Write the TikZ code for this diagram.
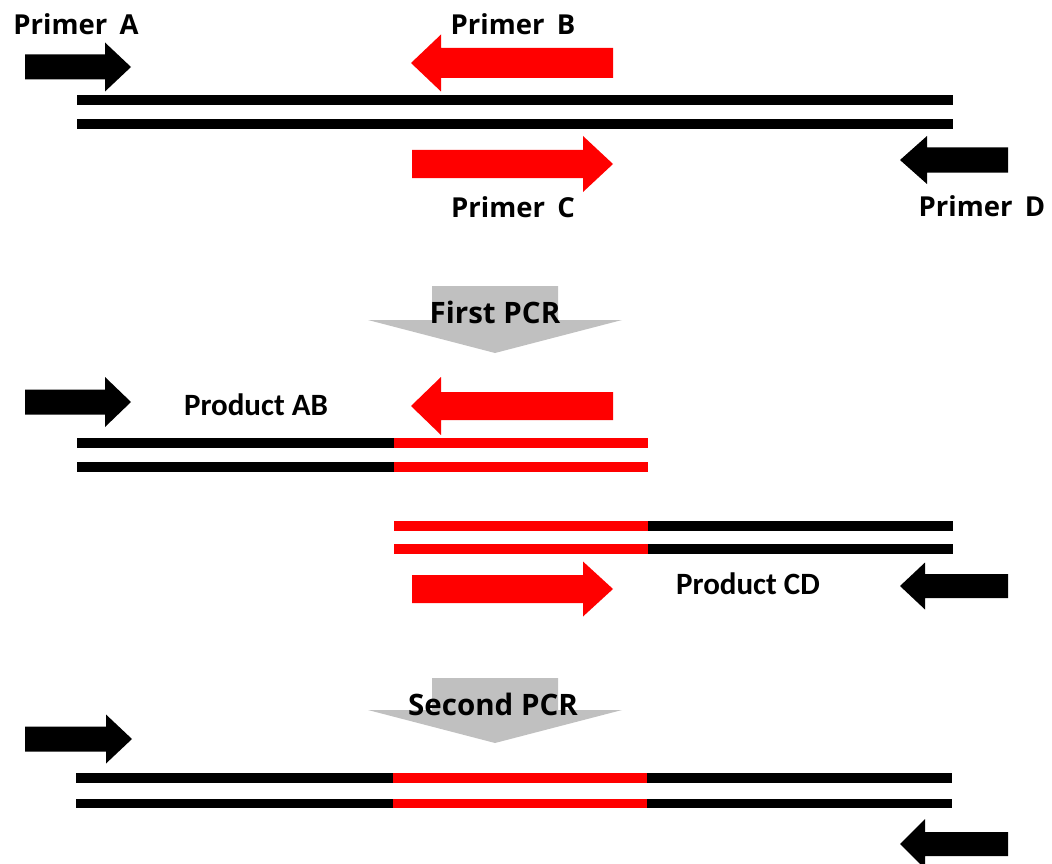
\documentclass[tikz,border=0pt]{standalone}
\usepackage{fontspec}
\setmainfont{Open Sans}
\newfontfamily\prodfont{Carlito}
\definecolor{primerred}{HTML}{FF0000}
\definecolor{pcrgrey}{HTML}{C0C0C0}

% Block arrow: colour, tip x, y, head-base x, tail x, shaft half-height, head half-height
\newcommand\primerarrow[7]{%
  \fill[#1] (#2,#3) -- (#4,#3-#7) -- (#4,#3-#6) -- (#5,#3-#6)
    -- (#5,#3+#6) -- (#4,#3+#6) -- (#4,#3+#7) -- cycle;}

% Wide grey "step" arrow: top of shaft y, head y, tip y
\newcommand\pcrarrow[3]{%
  \fill[pcrgrey] (432,#1) -- (558,#1) -- (558,#2) -- (622,#2) -- (495,#3)
    -- (368,#2) -- (432,#2) -- cycle;}

\tikzset{
  strand/.style={line width=9.5pt, line cap=butt},
  blackstrand/.style={strand, black},
  redstrand/.style={strand, primerred},
  primerlabel/.style={anchor=base, inner sep=0pt, font=\bfseries\fontsize{27.5}{30}\selectfont},
  pcrlabel/.style={anchor=base, inner sep=0pt, font=\bfseries\fontsize{29.5}{32}\selectfont},
  productlabel/.style={anchor=base, inner sep=0pt, font=\prodfont\bfseries\fontsize{31}{34}\selectfont},
}
\newcommand\gapA{\hspace{0.45em}}

\begin{document}
\begin{tikzpicture}[x=1pt, y=-1pt]
\useasboundingbox (0,0) rectangle (1052,864);
\clip (0,0) rectangle (1052,864);

% ---------- template with the four primers ----------
\node[primerlabel] (lA) at (76,35) {Primer\gapA A};
\node[primerlabel] (lB) at (513,35) {Primer\gapA B};
\node[primerlabel] (lC) at (513,217) {Primer\gapA C};
\node[primerlabel] (lD) at (982,216) {Primer\gapA D};

\primerarrow{black}{131}{67}{105}{25}{12.5}{24.5}
\primerarrow{primerred}{411}{63}{441}{613}{15}{28.5}
\primerarrow{primerred}{613}{164}{583}{412}{14}{28}
\primerarrow{black}{900}{160}{927}{1008}{12.5}{24}

\draw[blackstrand] (77,100) -- (953,100);
\draw[blackstrand] (77,124) -- (953,124);

% ---------- first PCR ----------
\pcrarrow{286}{320}{353}
\node[pcrlabel] (pcr1) at (495,323) {First PCR};

% product AB
\primerarrow{black}{131}{402}{105}{25}{12.5}{25}
\primerarrow{primerred}{411}{406}{441}{613}{14}{29}
\node[productlabel] (pAB) at (256,415) {Product AB};
\draw[blackstrand] (77,443) -- (394,443);
\draw[redstrand] (394,443) -- (648,443);
\draw[blackstrand] (77,467) -- (394,467);
\draw[redstrand] (394,467) -- (648,467);

% product CD
\draw[redstrand] (394,526) -- (648,526);
\draw[blackstrand] (648,526) -- (953,526);
\draw[redstrand] (394,549) -- (648,549);
\draw[blackstrand] (648,549) -- (953,549);
\primerarrow{primerred}{613}{589}{583}{412}{14}{27.5}
\primerarrow{black}{900}{586}{925}{1008}{12}{23.5}
\node[productlabel] (pCD) at (748,594) {Product CD};

% ---------- second PCR ----------
\pcrarrow{678}{710}{743}
\node[pcrlabel] (pcr2) at (493,715) {Second PCR};

\primerarrow{black}{132}{739}{106}{25}{12.5}{24.5}
\draw[blackstrand] (76,778) -- (393,778);
\draw[redstrand] (393,778) -- (647,778);
\draw[blackstrand] (647,778) -- (952,778);
\draw[blackstrand] (76,803.5) -- (393,803.5);
\draw[redstrand] (393,803.5) -- (647,803.5);
\draw[blackstrand] (647,803.5) -- (952,803.5);
\primerarrow{black}{900}{844}{925}{1008}{12}{25}
\end{tikzpicture}
\end{document}
